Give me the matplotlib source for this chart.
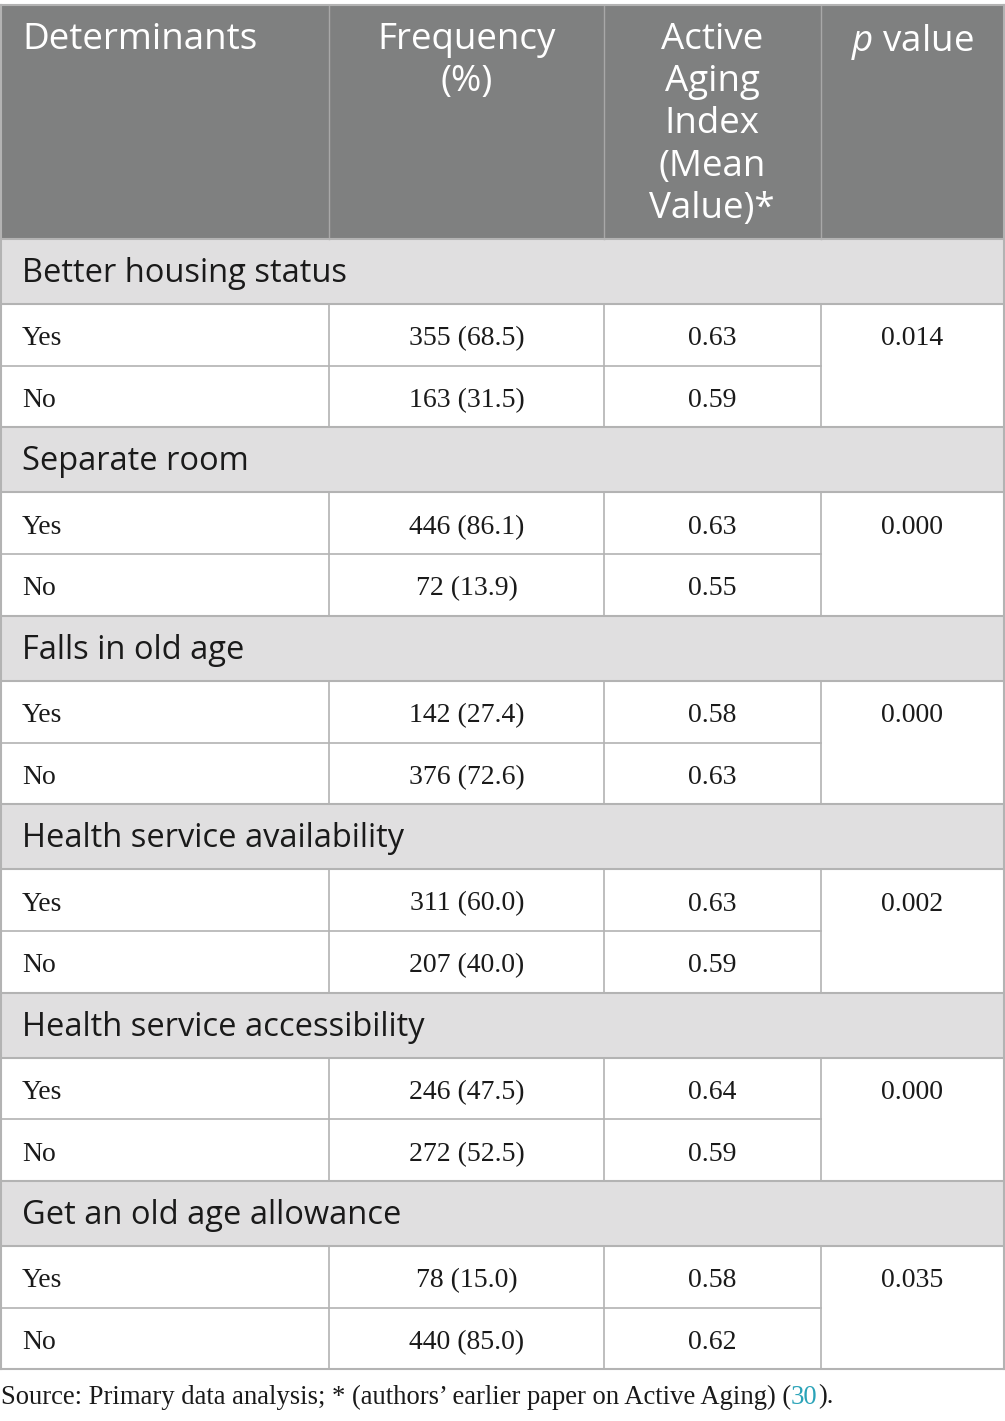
import matplotlib
matplotlib.use('agg')
import matplotlib.pyplot as plt
from matplotlib.patches import Rectangle

# table content
groups = ['Better housing status', 'Separate room', 'Falls in old age',
          'Health service availability', 'Health service accessibility',
          'Get an old age allowance']
answers = ['Yes', 'No']
freq = [['355 (68.5)', '163 (31.5)'],
        ['446 (86.1)', '72 (13.9)'],
        ['142 (27.4)', '376 (72.6)'],
        ['311 (60.0)', '207 (40.0)'],
        ['246 (47.5)', '272 (52.5)'],
        ['78 (15.0)', '440 (85.0)']]
aai = [['0.63', '0.59'],
       ['0.63', '0.55'],
       ['0.58', '0.63'],
       ['0.63', '0.59'],
       ['0.64', '0.59'],
       ['0.58', '0.62']]
pvals = ['0.014', '0.000', '0.000', '0.002', '0.000', '0.035']
footer = 'Source: Primary data analysis; * (authors\u2019 earlier paper on Active Aging) ('

plt.rcParams['mathtext.fontset'] = 'custom'
plt.rcParams['mathtext.it'] = 'Open Sans:italic'
plt.rcParams['mathtext.rm'] = 'Open Sans'

W, H = 1005, 1421
fig = plt.figure(figsize=(W / 100, H / 100), dpi=100)
ax = fig.add_axes([0, 0, 1, 1])
ax.set_xlim(0, W)
ax.set_ylim(H, 0)
ax.axis('off')

head_c = '#7f8080'
grp_c = '#e0dfe0'
line_c = '#b3b3b3'
sans = 'Open Sans'
serif = 'Liberation Serif'
ink = '#1a1a1a'

cols = [1, 329, 604, 821, 1004]
top, head_bot = 5, 239
grp_h, row_h = 65, 61.7
hfs, gfs, bfs = 26.5, 23.5, 20

# header
ax.add_patch(Rectangle((cols[0], top), cols[-1] - cols[0], head_bot - top,
                       facecolor=head_c, edgecolor='none'))
for x in cols[1:-1]:
    ax.plot([x, x], [top, head_bot], color='#a8a8a8', lw=1)
hy = 22
ax.text(22, hy, 'Determinants', color='white', fontsize=hfs, family=sans, va='top')
ax.text(467, hy, 'Frequency\n(%)', color='white', fontsize=hfs, family=sans,
        va='top', ha='center', linespacing=1.23)
ax.text(712, hy, 'Active\nAging\nIndex\n(Mean\nValue)*', color='white', fontsize=hfs,
        family=sans, va='top', ha='center', linespacing=1.23)
ax.text(912, hy, '$\\it{p}$ value', color='white', fontsize=hfs, family=sans,
        va='top', ha='center')

y = head_bot
hlines = [top, head_bot]
for g, name in enumerate(groups):
    ax.add_patch(Rectangle((cols[0], y), cols[-1] - cols[0], grp_h,
                           facecolor=grp_c, edgecolor='none'))
    ax.text(22, y + grp_h / 2 + 2, name, fontsize=gfs, family=sans, color=ink,
            va='center')
    y += grp_h
    hlines.append(y)
    y0 = y
    for i, a in enumerate(answers):
        yc = y + row_h / 2 + 4
        ax.text(22, yc, a, fontsize=bfs, family=serif, color=ink, va='center')
        ax.text(467, yc, freq[g][i], fontsize=bfs, family=serif, color=ink,
                va='center', ha='center')
        ax.text(712, yc, aai[g][i], fontsize=bfs, family=serif, color=ink,
                va='center', ha='center')
        if i == 0:
            ax.text(912, yc, pvals[g], fontsize=bfs, family=serif, color=ink,
                    va='center', ha='center')
            ax.plot([cols[0], cols[3]], [y + row_h] * 2, color=line_c, lw=1.2)
        y += row_h
    for x in cols[1:4]:
        ax.plot([x, x], [y0, y], color=line_c, lw=1.2)
    hlines.append(y)

for yy in hlines:
    ax.plot([cols[0], cols[-1]], [yy, yy], color=line_c, lw=1.5)
ax.plot([cols[0], cols[0]], [top, y], color=line_c, lw=1.5)
ax.plot([cols[-1], cols[-1]], [top, y], color=line_c, lw=1.5)

# footer with coloured reference number
ffs = 19.2
fy = 1397
t = ax.text(1, fy, footer, fontsize=ffs, family=serif, color=ink, va='center')
fig.canvas.draw()
bb = t.get_window_extent()
t2 = ax.annotate('30', xy=(bb.x1, H - fy), xycoords='figure pixels', fontsize=ffs,
                 family=serif, color='#2aa3b8', va='center')
fig.canvas.draw()
bb2 = t2.get_window_extent()
ax.annotate(').', xy=(bb2.x1, H - fy), xycoords='figure pixels', fontsize=ffs,
            family=serif, color=ink, va='center')

fig.savefig('out.png', dpi=100)
